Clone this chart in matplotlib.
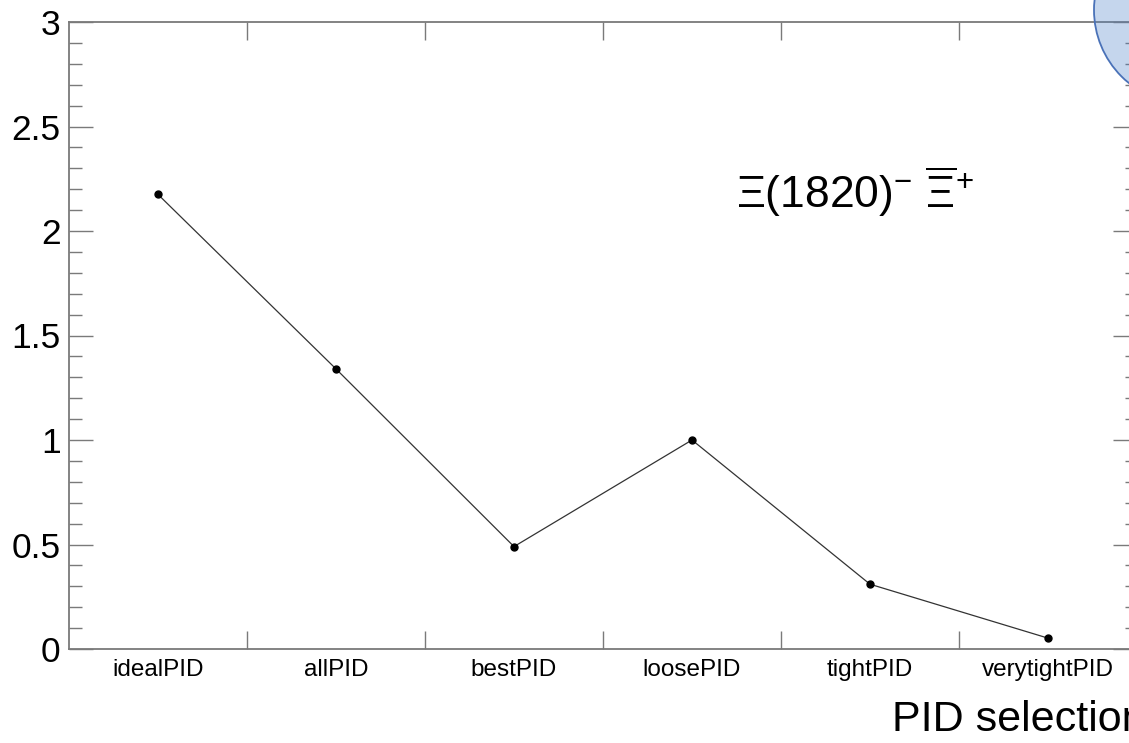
import matplotlib
matplotlib.use("Agg")
import matplotlib.pyplot as plt
from matplotlib.patches import Circle
from matplotlib.transforms import IdentityTransform
from matplotlib.ticker import MultipleLocator

categories = ["idealPID", "allPID", "bestPID", "loosePID", "tightPID", "verytightPID"]
values = [2.175, 1.34, 0.49, 1.0, 0.31, 0.052]
y_ticks = [0, 0.5, 1, 1.5, 2, 2.5, 3]
y_labels = ["0", "0.5", "1", "1.5", "2", "2.5", "3"]


def main():
    plt.rcParams['font.family'] = ['Liberation Sans', 'DejaVu Sans']
    plt.rcParams['mathtext.fontset'] = 'custom'
    plt.rcParams['mathtext.rm'] = 'Liberation Sans'
    plt.rcParams['mathtext.it'] = 'Liberation Sans'
    plt.rcParams['mathtext.bf'] = 'Liberation Sans'

    fig = plt.figure(figsize=(11.29, 7.43), dpi=100)
    W, H = 1129, 743
    ax = fig.add_axes([69 / W, 94 / H, 1068 / W, 627 / H])

    x = list(range(len(categories)))
    ax.plot(x, values, color="#333333", lw=0.9, marker="o", ms=5,
            mfc="black", mec="black", clip_on=False)

    ax.set_xlim(-0.5, len(categories) - 0.5)
    ax.set_ylim(0, 3)

    frame_col = "#7a7a7a"
    for s in ax.spines.values():
        s.set_color(frame_col)
        s.set_linewidth(1.3)

    ax.set_xticks(x)
    ax.set_xticklabels(categories, fontsize=17.5)
    ax.set_xticks([i + 0.5 for i in x[:-1]], minor=True)
    ax.tick_params(axis="x", which="major", length=0, pad=7)
    ax.tick_params(axis="x", which="minor", direction="in", length=13,
                   width=1, color=frame_col, top=True, bottom=True)

    ax.set_yticks(y_ticks)
    ax.set_yticklabels(y_labels, fontsize=25.5)
    ax.yaxis.set_minor_locator(MultipleLocator(0.1))
    ax.tick_params(axis="y", which="major", direction="in", length=17,
                   width=1, color=frame_col, left=True, right=True, pad=6)
    ax.tick_params(axis="y", which="minor", direction="in", length=9,
                   width=1, color=frame_col, left=True, right=True)

    # axis title runs past the right edge, as in the original
    fig.text(892 / W, 12 / H, "PID selection", fontsize=31,
             ha="left", va="baseline")

    fig.text(736 / W, (H - 208) / H,
             r"$\Xi(1820)^{-}\ \overline{\Xi}^{+}$", fontsize=32,
             ha="left", va="baseline")

    circ = Circle((1188, H - 10), 94, transform=IdentityTransform(),
                  facecolor=(0.30, 0.50, 0.78, 0.32), edgecolor="#4a72b8",
                  lw=1.3, zorder=10)
    fig.add_artist(circ)

    fig.savefig("out.png", dpi=100)


if __name__ == "__main__":
    main()
